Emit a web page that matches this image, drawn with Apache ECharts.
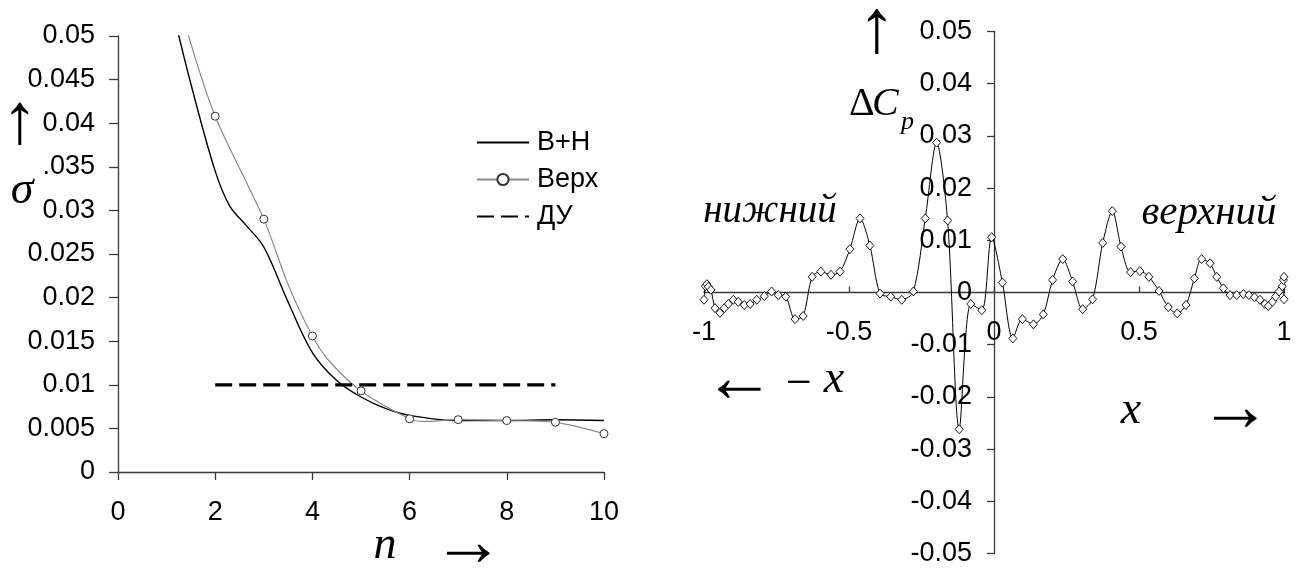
<!DOCTYPE html>
<html>
<head>
<meta charset="utf-8">
<script src="https://cdn.jsdelivr.net/npm/echarts@6/dist/echarts.min.js"></script>
<style>html,body{margin:0;padding:0;background:#fff}#c{width:1301px;height:568px}</style>
</head>
<body>
<div id="c"></div>
<script>
// ---- Left chart: sigma vs n ----
var nBH = [1.1, 1.5, 2, 2.3, 2.65, 3, 3.5, 4, 4.5, 5, 5.5, 6, 7, 8, 9, 10];
var sigmaBH = [0.0535, 0.0445, 0.0345, 0.0305, 0.0282, 0.0258, 0.0195, 0.0137, 0.0105, 0.0086, 0.0073, 0.0065, 0.0059, 0.0059, 0.006, 0.0059];
var nUp = [1.3, 1.42, 2, 3, 3.5, 4, 4.35, 5, 6, 6.27, 7, 8, 9, 10];
var sigmaUp = [0.054, 0.0506, 0.0408, 0.029, 0.0215, 0.0156, 0.0127, 0.0093, 0.0061, 0.0058, 0.006, 0.0059, 0.0057, 0.0044];
var nDU = [2, 9];
var sigmaDU = [0.01, 0.01];
var seriesNames = ['В+Н', 'Верх', 'ДУ'];

// ---- Right chart: delta Cp vs x ----
var cpX = [-1.000, -0.995, -0.990, -0.985, -0.976, -0.962, -0.945, -0.930, -0.916, -0.899, -0.882, -0.861, -0.841, -0.818, -0.792, -0.767, -0.744, -0.718, -0.686, -0.658, -0.627, -0.597, -0.562, -0.531, -0.497, -0.462, -0.428, -0.393, -0.356, -0.318, -0.278, -0.237, -0.198, -0.160, -0.120, -0.080, -0.042, -0.008, 0.029, 0.065, 0.098, 0.136, 0.170, 0.202, 0.237, 0.271, 0.306, 0.340, 0.375, 0.408, 0.438, 0.471, 0.503, 0.534, 0.569, 0.601, 0.632, 0.662, 0.691, 0.716, 0.745, 0.768, 0.791, 0.814, 0.837, 0.860, 0.879, 0.898, 0.917, 0.934, 0.946, 0.960, 0.971, 0.983, 0.994, 0.998, 1.000, 1.000];
var cpY = [-0.0014, 0.0012, 0.0016, 0.0011, 0.0005, -0.0030, -0.0039, -0.0030, -0.0022, -0.0014, -0.0018, -0.0024, -0.0022, -0.0014, -0.0007, 0.0002, -0.0005, -0.0008, -0.0051, -0.0045, 0.0030, 0.0040, 0.0034, 0.0040, 0.0083, 0.0142, 0.0090, -0.0002, -0.0008, -0.0014, 0.0002, 0.0142, 0.0287, 0.0138, -0.0262, -0.0022, -0.0034, 0.0106, 0.0019, -0.0088, -0.0051, -0.0061, -0.0042, 0.0024, 0.0064, 0.0021, -0.0032, -0.0013, 0.0095, 0.0156, 0.0088, 0.0039, 0.0041, 0.0030, 0.0003, -0.0028, -0.0040, -0.0024, 0.0027, 0.0064, 0.0056, 0.0030, 0.0008, -0.0005, -0.0005, -0.0003, -0.0005, -0.0009, -0.0014, -0.0022, -0.0026, -0.0018, -0.0008, 0.0002, 0.0012, 0.0024, 0.0030, -0.0013];

function zip(a, b) { return a.map(function (v, i) { return [v, b[i]]; }); }

var FONT = 'Liberation Sans';
var SERIF = 'Liberation Serif';
var AX = '#3a3a3a';
var LFS = 27;

var upData = nUp.map(function (n, i) {
  var isInt = Math.abs(n - Math.round(n)) < 1e-9 && n >= 2;
  return isInt ? { value: [n, sigmaUp[i]] } : { value: [n, sigmaUp[i]], symbol: 'none' };
});

// right grid geometry (pixels) used to place its axes through the origin
var RG = { left: 704, top: 31.5, width: 580, height: 522 };
var xZeroOffset = -(RG.width / 2);   // y axis moved to x = 0
var yZeroOffset = -(RG.height / 2);  // x axis moved to y = 0

function txt(x, y, t, size, italic, align, va) {
  return { type: 'text', x: x, y: y, style: { text: t, fontSize: size, fontStyle: italic ? 'italic' : 'normal', fontFamily: SERIF, fill: '#000', align: align || 'center', verticalAlign: va || 'middle' } };
}

var chart = echarts.init(document.getElementById('c'), null, { renderer: 'canvas' });
chart.setOption({
  backgroundColor: '#fff',
  animation: false,
  textStyle: { fontFamily: FONT, color: '#000' },
  grid: [
    { left: 118, top: 36, width: 486, height: 436 },
    RG
  ],
  legend: {
    data: [
      { name: seriesNames[0], itemStyle: { opacity: 0 } },
      { name: seriesNames[1] },
      { name: seriesNames[2], itemStyle: { opacity: 0 } }
    ],
    orient: 'vertical',
    left: 476, top: 129, padding: 0,
    itemWidth: 52, itemHeight: 14, itemGap: 10,
    textStyle: { fontSize: LFS, fontFamily: FONT, color: '#000', padding: [0, 0, 0, 3] }
  },
  xAxis: [
    {
      gridIndex: 0, type: 'value', min: 0, max: 10, interval: 2,
      axisLine: { show: true, onZero: false, lineStyle: { color: AX, width: 1.3 } },
      axisTick: { show: true, inside: false, length: 8, lineStyle: { color: AX, width: 1.3 } },
      axisLabel: { fontSize: LFS, color: '#000', margin: 27, fontFamily: FONT },
      splitLine: { show: false }
    },
    {
      gridIndex: 1, type: 'value', min: -1, max: 1, interval: 0.5, offset: yZeroOffset,
      axisLine: { show: true, onZero: false, lineStyle: { color: AX, width: 1.3 } },
      axisTick: { show: true, inside: true, length: 6, lineStyle: { color: AX, width: 1.3 } },
      axisLabel: { fontSize: LFS, color: '#000', margin: 27, fontFamily: FONT,
        formatter: function (v) { return String(v); } },
      splitLine: { show: false }
    }
  ],
  yAxis: [
    {
      gridIndex: 0, type: 'value', min: 0, max: 0.05, interval: 0.005,
      axisLine: { show: true, onZero: false, lineStyle: { color: AX, width: 1.3 } },
      axisTick: { show: true, inside: false, length: 9, lineStyle: { color: AX, width: 1.3 } },
      axisLabel: { fontSize: LFS, color: '#000', margin: 23, fontFamily: FONT,
        formatter: function (v) {
          var s = String(parseFloat(v.toFixed(4)));
          if (s === '0.035') return '.035';
          return s;
        } },
      splitLine: { show: false }
    },
    {
      gridIndex: 1, type: 'value', min: -0.05, max: 0.05, interval: 0.01, offset: xZeroOffset,
      axisLine: { show: true, onZero: false, lineStyle: { color: AX, width: 1.3 } },
      axisTick: { show: true, inside: false, length: 7, lineStyle: { color: AX, width: 1.3 } },
      axisLabel: { fontSize: LFS, color: '#000', margin: 22, fontFamily: FONT,
        formatter: function (v) {
          var r = Math.round(v * 100) / 100;
          return r === 0 ? '0' : r.toFixed(2);
        } },
      splitLine: { show: false }
    }
  ],
  series: [
    {
      name: seriesNames[0], type: 'line', xAxisIndex: 0, yAxisIndex: 0,
      data: zip(nBH, sigmaBH), smooth: 0.35, symbol: 'none', clip: true,
      lineStyle: { color: '#000', width: 1.4 }, itemStyle: { color: '#000' }
    },
    {
      name: seriesNames[1], type: 'line', xAxisIndex: 0, yAxisIndex: 0,
      data: upData, smooth: 0.3, symbol: 'circle', symbolSize: 8, clip: true,
      lineStyle: { color: '#8a8a8a', width: 1.2 },
      itemStyle: { color: '#fff', borderColor: '#333', borderWidth: 1 }
    },
    {
      name: seriesNames[2], type: 'line', xAxisIndex: 0, yAxisIndex: 0,
      data: zip(nDU, sigmaDU), symbol: 'none',
      lineStyle: { color: '#000', width: 3.3, type: [17, 7] }, itemStyle: { color: '#000' }
    },
    {
      name: 'ΔCp', type: 'line', xAxisIndex: 1, yAxisIndex: 1,
      data: zip(cpX, cpY), smooth: 0.3, symbol: 'diamond', symbolSize: [8, 9],
      lineStyle: { color: '#000', width: 1 },
      itemStyle: { color: '#fff', borderColor: '#000', borderWidth: 0.9 }
    }
  ],
  graphic: [
    txt(20, 124, '↑', 72, false),
    txt(22, 191, 'σ', 46, true),
    txt(385, 546, 'n', 46, true),
    txt(468, 546, '→', 72, false),
    txt(877, 32, '↑', 76, false),
    txt(849, 124, 'Δ', 40, false, 'left', 'bottom'),
    txt(872, 124, 'C', 40, true, 'left', 'bottom'),
    txt(901, 135, 'p', 26, true, 'left', 'bottom'),
    txt(770, 212, 'нижний', 39, true),
    txt(1209, 213, 'верхний', 41, true),
    txt(739, 382, '←', 72, false),
    txt(799, 385, '−', 46, false),
    txt(834, 380, 'x', 46, true),
    txt(1131, 411, 'x', 46, true),
    txt(1235, 411, '→', 72, false)
  ]
});
</script>
</body>
</html>
